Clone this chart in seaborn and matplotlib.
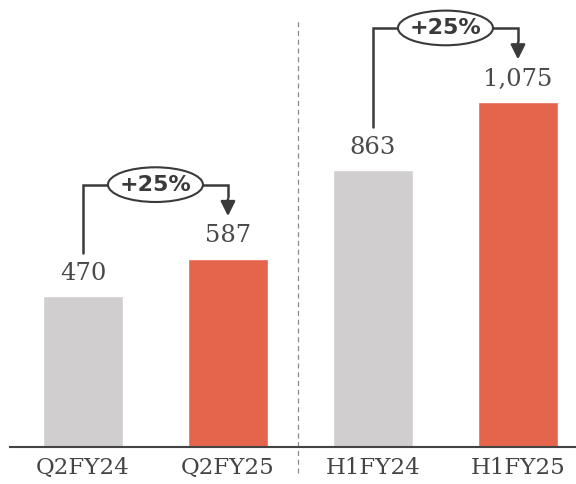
import numpy as np
import pandas as pd
import seaborn as sns
import matplotlib.pyplot as plt
from matplotlib.patches import Ellipse

categories = ["Q2FY24", "Q2FY25", "H1FY24", "H1FY25"]
values = [470, 587, 863, 1075]
value_labels = ["470", "587", "863", "1,075"]
bar_colors = ["#d0cecf", "#e5654c", "#d0cecf", "#e5654c"]
growth_labels = ["+25%", "+25%"]
pairs = [(0, 1), (2, 3)]

TEXT = "#444444"
LINE = "#3a3a3a"

sns.set_style("white")
plt.rcParams["font.family"] = ["DejaVu Serif"]

df = pd.DataFrame({"period": categories, "value": values})

fig = plt.figure(figsize=(5.76, 4.84), dpi=100)
ax = fig.add_axes([10 / 576, 37 / 484, 566 / 576, 447 / 484])

sns.barplot(data=df, x="period", y="value", hue="period", palette=bar_colors,
            width=0.55, saturation=1, legend=False, ax=ax)

ax.set_ylim(0, 1392)
ax.set_xlim(-0.503, 3.40)
ax.set_xlabel("")
ax.set_ylabel("")
ax.set_yticks([])
for s in ["top", "right", "left"]:
    ax.spines[s].set_visible(False)
ax.spines["bottom"].set_color("#444444")
ax.spines["bottom"].set_linewidth(1.5)
ax.tick_params(axis="x", length=0, pad=7, labelsize=16.5, labelcolor=TEXT)

# value labels
for i, (v, lab) in enumerate(zip(values, value_labels)):
    ax.annotate(lab, xy=(i, v), xytext=(0, 8), textcoords="offset points",
                ha="center", va="bottom", fontsize=17.5, color="#4a4a4a")

# divider between quarter and half-year
ax.plot([1.483, 1.483], [-80, 1330], ls=(0, (4, 3)), color="#8a8a8a",
        lw=0.9, clip_on=False)

# growth brackets
for (a, b), g in zip(pairs, growth_labels):
    y_low = values[a] + 134
    y_top = values[b] + 230
    y_tip = values[b] + 132
    ax.plot([a, a, b, b], [y_low, y_top, y_top, y_top - 40], color=LINE,
            lw=1.8, solid_joinstyle="miter", zorder=3)
    ax.annotate("", xy=(b, y_tip), xytext=(b, y_top - 45),
                arrowprops=dict(arrowstyle="-|>", color=LINE, lw=1.8,
                                mutation_scale=22, shrinkA=0, shrinkB=0),
                zorder=3)
    cx = (a + b) / 2
    ax.add_patch(Ellipse((cx, y_top), 0.655, 108, facecolor="white",
                         edgecolor=LINE, lw=1.5, zorder=4, clip_on=False))
    ax.text(cx, y_top, g, ha="center", va="center", fontsize=16,
            fontweight="bold", color=LINE, zorder=5,
            family=["DejaVu Sans"])

fig.savefig("out.png", dpi=100)
